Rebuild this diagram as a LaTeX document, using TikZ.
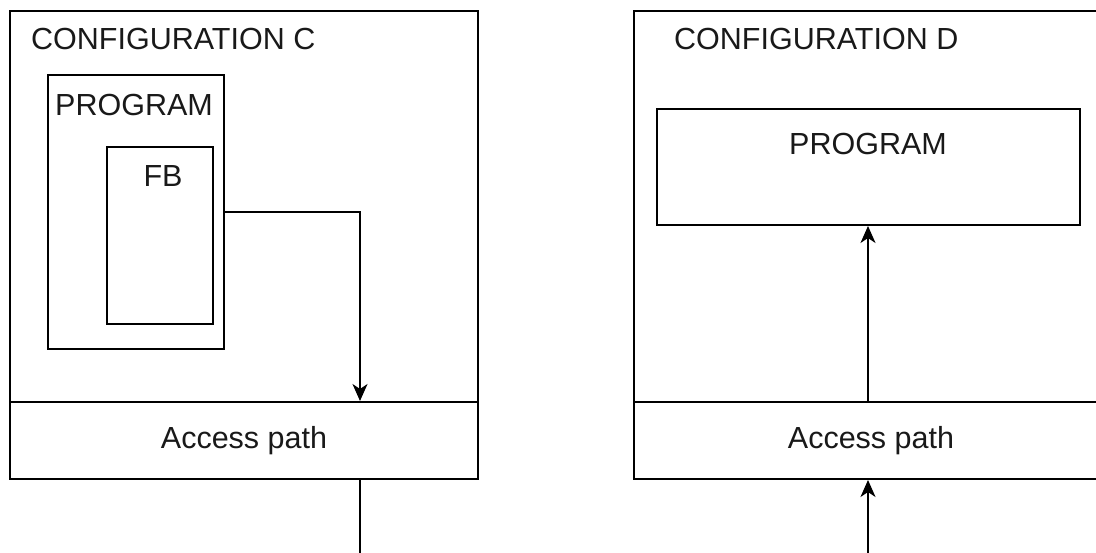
\documentclass[tikz,border=0pt]{standalone}
\usepackage{fontspec}
\setmainfont{Liberation Sans}
\usetikzlibrary{arrows.meta}

\tikzset{
  box/.style={draw=black, line width=2pt, inner sep=0pt, anchor=north west, fill=none},
  lbl/.style={inner sep=0pt, font=\fontsize{30.5}{36}\selectfont, text=black!90},
  link/.style={draw=black, line width=2pt},
  arr/.style={link, -{Stealth[length=17pt,width=15pt,inset=5pt]}},
}

\begin{document}
\begin{tikzpicture}[x=1pt,y=-1pt]
  \useasboundingbox (0,0) rectangle (1096,553);
  \clip (0,0) rectangle (1096,553);

  % ---- Configuration C ----
  \node[box, minimum width=468pt, minimum height=391pt] (confC) at (9,10) {};
  \node[box, minimum width=468pt, minimum height=77pt] (accC) at (9,401) {};
  \node[box, minimum width=176pt, minimum height=274pt] (progC) at (47,74) {};
  \node[box, minimum width=106pt, minimum height=177pt] (fbC) at (106,146) {};

  \node[lbl, anchor=base west] (tConfC) at (31,50) {CONFIGURATION C};
  \node[lbl, anchor=base west] (tProgC) at (55,116) {PROGRAM};
  \node[lbl, anchor=base] (tFB) at (163,187) {FB};
  \node[lbl, anchor=base] (tAccC) at (244,449) {Access path};

  \coordinate (cOut) at (223,212);
  \coordinate (cIn) at (360,401);
  \coordinate (cBelow) at (360,553);
  \draw[arr] (cOut) -| (cIn);
  \draw[link] (cBelow) -- (accC.south -| cBelow);

  % ---- Configuration D ----
  \node[box, minimum width=468pt, minimum height=391pt] (confD) at (633,10) {};
  \node[box, minimum width=468pt, minimum height=77pt] (accD) at (633,401) {};
  \node[box, minimum width=423pt, minimum height=116pt] (progD) at (656,108) {};

  \node[lbl, anchor=base west] (tConfD) at (674,50) {CONFIGURATION D};
  \node[lbl, anchor=base] (tProgD) at (868,155) {PROGRAM};
  \node[lbl, anchor=base] (tAccD) at (871,449) {Access path};

  \coordinate (dBelow) at (868,553);
  \draw[arr] (dBelow) -- (accD.south -| dBelow);
  \draw[arr] (accD.north -| dBelow) -- (progD.south -| dBelow);
\end{tikzpicture}
\end{document}
